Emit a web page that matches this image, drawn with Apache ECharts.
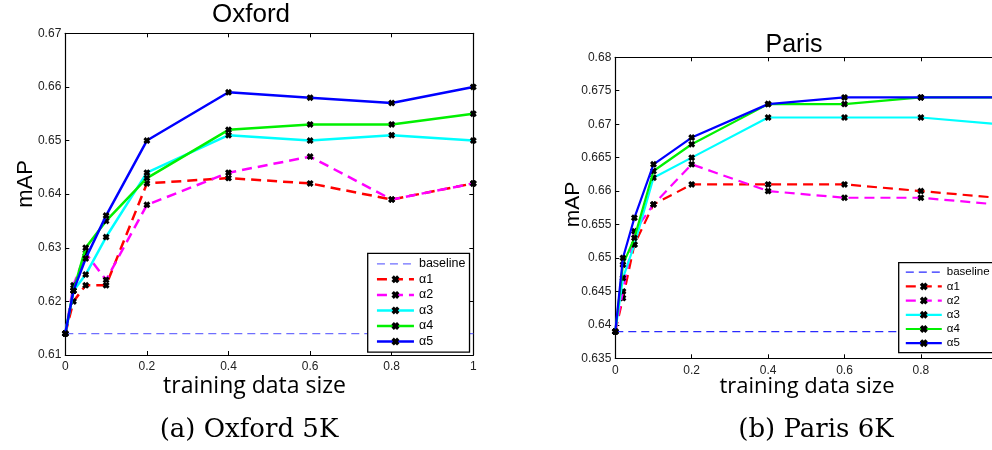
<!DOCTYPE html>
<html>
<head>
<meta charset="utf-8">
<script src="https://cdn.jsdelivr.net/npm/echarts@6/dist/echarts.min.js"></script>
<style>
  html, body { margin: 0; padding: 0; background: #fff; overflow: hidden; }
  .panel { position: absolute; top: 0; width: 496px; height: 450px; }
  #oxford { left: 0; }
  #paris { left: 496px; }
</style>
</head>
<body>
<div id="oxford" class="panel"></div>
<div id="paris" class="panel"></div>
<script>
// Fractions of the training set used for each run
const trainingSizes = [0, 0.02, 0.05, 0.1, 0.2, 0.4, 0.6, 0.8, 1];
const seriesNames = ['baseline', 'α1', 'α2', 'α3', 'α4', 'α5'];

// Oxford 5K mAP
const oxfordBaseline = 0.614;
const oxfordAlpha1 = [0.614, 0.620, 0.623, 0.623, 0.642, 0.643, 0.642, 0.639, 0.642];
const oxfordAlpha2 = [0.614, 0.623, 0.629, 0.624, 0.638, 0.644, 0.647, 0.639, 0.642];
const oxfordAlpha3 = [0.614, 0.622, 0.625, 0.632, 0.644, 0.651, 0.650, 0.651, 0.650];
const oxfordAlpha4 = [0.614, 0.622, 0.630, 0.635, 0.643, 0.652, 0.653, 0.653, 0.655];
const oxfordAlpha5 = [0.614, 0.622, 0.628, 0.636, 0.650, 0.659, 0.658, 0.657, 0.660];

// Paris 6K mAP
const parisBaseline = 0.639;
const parisAlpha1 = [0.639, 0.644, 0.652, 0.658, 0.661, 0.661, 0.661, 0.660, 0.659];
const parisAlpha2 = [0.639, 0.645, 0.654, 0.658, 0.664, 0.660, 0.659, 0.659, 0.658];
const parisAlpha3 = [0.639, 0.647, 0.652, 0.662, 0.665, 0.671, 0.671, 0.671, 0.670];
const parisAlpha4 = [0.639, 0.649, 0.653, 0.663, 0.667, 0.673, 0.673, 0.674, 0.674];
const parisAlpha5 = [0.639, 0.650, 0.656, 0.664, 0.668, 0.673, 0.674, 0.674, 0.674];

// Axis ranges
const xRange = { min: 0, max: 1, step: 0.2 };
const oxfordYRange = { min: 0.61, max: 0.67, step: 0.01 };
const parisYRange = { min: 0.635, max: 0.68, step: 0.005 };

// Bold "x" marker
const CROSS = 'path://M0,3L3,0L5,2L7,0L10,3L8,5L10,7L7,10L5,8L3,10L0,7L2,5Z';
const SANS = '"Liberation Sans", Arial, sans-serif';

function pairs(values) {
  return trainingSizes.map((x, i) => [x, values[i]]);
}

function buildOption(cfg) {
  const colors = ['#ff0000', '#ff00ff', '#00ffff', '#00f000', '#0000ff'];
  const dashed = [true, true, false, false, false];
  const curves = cfg.alphas.map((vals, i) => ({
    type: 'line',
    name: seriesNames[i + 1],
    data: pairs(vals),
    symbol: CROSS,
    symbolSize: 7,
    showSymbol: true,
    animation: false,
    z: 3 + i,
    itemStyle: { color: '#000' },
    lineStyle: {
      color: colors[i],
      width: cfg.lineWidth,
      type: dashed[i] ? [10, 6] : 'solid'
    }
  }));
  const baseline = {
    type: 'line',
    name: 'baseline',
    data: [[xRange.min, cfg.baseline], [xRange.max, cfg.baseline]],
    symbol: 'none',
    animation: false,
    z: 2,
    itemStyle: { color: cfg.baseColor },
    lineStyle: { color: cfg.baseColor, width: cfg.baseWidth, type: [8, 5] }
  };

  const axisCommon = {
    type: 'value',
    gridIndex: 0,
    splitLine: { show: false },
    axisLine: { show: true, onZero: false, lineStyle: { color: '#000', width: 1.2 } },
    axisTick: { show: true, inside: true, length: 4, lineStyle: { color: '#000', width: 1 } }
  };
  const xBase = Object.assign({}, axisCommon, { min: xRange.min, max: xRange.max, interval: xRange.step });
  const yBase = Object.assign({}, axisCommon, { min: cfg.y.min, max: cfg.y.max, interval: cfg.y.step });
  const tickLabel = { fontFamily: SANS, fontSize: 12, color: '#222' };

  const legendData = seriesNames.map((n, i) => i === 0
    ? { name: n, itemStyle: { opacity: 0 }, lineStyle: { width: cfg.baseWidth, color: cfg.baseColor, type: [8, 5] } }
    : { name: n, lineStyle: { width: cfg.lineWidth } });

  return {
    animation: false,
    grid: {
      left: cfg.grid.left, top: cfg.grid.top, width: cfg.grid.width, height: cfg.grid.height,
      containLabel: false, outerBoundsMode: 'none'
    },
    xAxis: [
      Object.assign({}, xBase, { position: 'bottom', axisLabel: Object.assign({ margin: 6 }, tickLabel) }),
      Object.assign({}, xBase, { position: 'top', axisLabel: { show: false } })
    ],
    yAxis: [
      Object.assign({}, yBase, { position: 'left', axisLabel: Object.assign({ margin: 4 }, tickLabel) }),
      Object.assign({}, yBase, { position: 'right', axisLabel: { show: false } })
    ],
    legend: {
      orient: 'vertical',
      left: cfg.legend.left,
      top: cfg.legend.top,
      data: legendData,
      selectedMode: false,
      itemWidth: cfg.legend.itemWidth,
      itemHeight: 10,
      itemGap: cfg.legend.gap,
      padding: cfg.legend.padding,
      backgroundColor: '#fff',
      borderColor: '#000',
      borderWidth: 1.3,
      borderRadius: 0,
      textStyle: { fontFamily: SANS, fontSize: cfg.legend.fontSize, color: '#000' }
    },
    graphic: [
      {
        type: 'text', x: cfg.title.x, y: cfg.title.y, z: 20,
        style: { text: cfg.title.text, font: cfg.title.size + 'px ' + SANS, fill: '#000',
                 align: 'center', verticalAlign: 'middle', textAlign: 'center', textVerticalAlign: 'middle' }
      },
      {
        type: 'text', x: cfg.yName.x, y: cfg.yName.y, rotation: Math.PI / 2, z: 20,
        style: { text: 'mAP', font: cfg.yName.size + 'px ' + SANS, fill: '#000',
                 align: 'center', verticalAlign: 'middle', textAlign: 'center', textVerticalAlign: 'middle' }
      },
      {
        type: 'text', x: cfg.xName.x, y: cfg.xName.y, z: 20,
        style: { text: 'training data size', font: cfg.xName.size + 'px "Open Sans", sans-serif', fill: '#000',
                 align: 'center', verticalAlign: 'middle', textAlign: 'center', textVerticalAlign: 'middle' }
      },
      {
        type: 'text', x: cfg.caption.x, y: cfg.caption.y, z: 20,
        style: { text: cfg.caption.text, font: cfg.caption.size + 'px "DejaVu Serif", serif', fill: '#000',
                 align: 'center', verticalAlign: 'middle', textAlign: 'center', textVerticalAlign: 'middle' }
      }
    ],
    series: [baseline].concat(curves)
  };
}

const oxfordChart = echarts.init(document.getElementById('oxford'), null, { renderer: 'canvas' });
oxfordChart.setOption(buildOption({
  baseline: oxfordBaseline,
  alphas: [oxfordAlpha1, oxfordAlpha2, oxfordAlpha3, oxfordAlpha4, oxfordAlpha5],
  y: oxfordYRange,
  lineWidth: 2.5,
  baseWidth: 1.3,
  baseColor: '#6f6fff',
  grid: { left: 65.3, top: 33.3, width: 408, height: 321.7 },
  legend: { left: 367.7, top: 253.3, itemWidth: 37, gap: 2.55, padding: [4, 4, 4, 8], fontSize: 12.5 },
  title: { text: 'Oxford', x: 251, y: 15, size: 26 },
  yName: { x: 25.5, y: 184, size: 22 },
  xName: { x: 254.5, y: 386, size: 23 },
  caption: { text: '(a) Oxford 5K', x: 249, y: 430, size: 26 }
}));

const parisChart = echarts.init(document.getElementById('paris'), null, { renderer: 'canvas' });
parisChart.setOption(buildOption({
  baseline: parisBaseline,
  alphas: [parisAlpha1, parisAlpha2, parisAlpha3, parisAlpha4, parisAlpha5],
  y: parisYRange,
  lineWidth: 2.2,
  baseWidth: 1.2,
  baseColor: '#2a2aff',
  grid: { left: 119.3, top: 57.3, width: 382, height: 301 },
  legend: { left: 402.7, top: 262.7, itemWidth: 36, gap: 2.2, padding: [3.5, 6, 3.5, 6], fontSize: 11.5 },
  title: { text: 'Paris', x: 298, y: 45, size: 25 },
  yName: { x: 77.5, y: 204.5, size: 21 },
  xName: { x: 311, y: 387, size: 22 },
  caption: { text: '(b) Paris 6K', x: 320, y: 430, size: 26 }
}));
</script>
</body>
</html>
